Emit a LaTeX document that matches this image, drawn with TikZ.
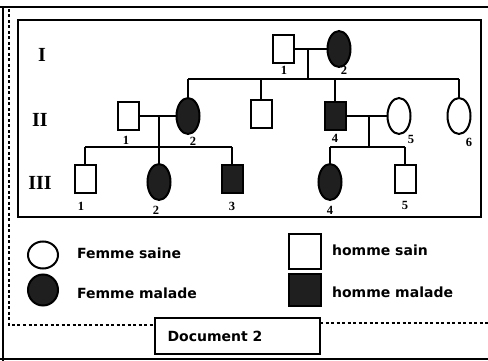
\documentclass[tikz,border=0pt]{standalone}
\usepackage{fontspec}
\setmainfont{DejaVu Sans}
\newfontfamily\romfont{Liberation Serif}
\usetikzlibrary{shapes.geometric}

\tikzset{
  male/.style={draw, line width=2pt, minimum width=21pt, minimum height=28pt, inner sep=0pt},
  female/.style={draw, ellipse, line width=2pt, minimum width=23pt, minimum height=36pt, inner sep=0pt},
  sick/.style={fill=black!88},
  gen/.style={font=\romfont\bfseries\fontsize{20}{20}\selectfont, inner sep=0pt},
  num/.style={font=\romfont\bfseries\fontsize{12.5}{12.5}\selectfont, inner sep=0pt},
  key/.style={anchor=west, font=\bfseries\fontsize{14}{14}\selectfont, inner sep=0pt},
}

\begin{document}
\begin{tikzpicture}[x=1pt, y=-1pt, line width=2.2pt]
        \useasboundingbox (0,0) rectangle (488,361);
        % frames
        \draw [line width=1.6pt] (0,7) -- (488,7);
        \draw [line width=1.6pt] (3,7) -- (3,361);
        \draw [line width=1.6pt] (0,359) -- (488,359);
        \draw [line width=2.4pt, dash pattern=on 3pt off 2.5pt] (9,9) -- (9,325) -- (155,325);
        \draw [line width=2.4pt, dash pattern=on 3pt off 2.5pt] (320,323) -- (488,323);
        \draw [line width=2.8pt] (18,20) rectangle (481,217);
        % generations
        \node [gen] (g1) at (42,55) {I};
        \node [gen] (g2) at (40,120) {II};
        \node [gen] (g3) at (40,183) {III};
        % generation I
        \node [male] (i1) at (283,49) {};
        \node [female, sick] (i2) at (339,49) {};
        \coordinate (c1) at (308,49);
        \coordinate (d1) at (308,79);
        \coordinate (l1) at (188,79);
        \coordinate (r1) at (459,79);
        \node [num] (n11) at (284,70) {1};
        \node [num] (n12) at (344,70) {2};
        % generation II
        \node [male] (ii1) at (128,116) {};
        \node [female, sick] (ii2) at (188,116) {};
        \node [male] (ii3) at (261,114) {};
        \node [male, sick] (ii4) at (335,116) {};
        \node [female] (ii5) at (399,116) {};
        \node [female] (ii6) at (459,116) {};
        \coordinate (c2) at (159,116);
        \coordinate (d2) at (159,147);
        \coordinate (l2) at (85,147);
        \coordinate (r2) at (232,147);
        \coordinate (c3) at (369,116);
        \coordinate (d3) at (369,147);
        \coordinate (l3) at (330,147);
        \coordinate (r3) at (405,147);
        \node [num] (n21) at (126,140) {1};
        \node [num] (n22) at (193,141) {2};
        \node [num] (n24) at (335,138) {4};
        \node [num] (n25) at (411,139) {5};
        \node [num] (n26) at (469,142) {6};
        % generation III
        \node [male] (iii1) at (85,179) {};
        \node [female, sick] (iii2) at (159,182) {};
        \node [male, sick] (iii3) at (232,179) {};
        \node [female, sick] (iii4) at (330,182) {};
        \node [male] (iii5) at (405,179) {};
        \node [num] (n31) at (81,206) {1};
        \node [num] (n32) at (156,210) {2};
        \node [num] (n33) at (232,206) {3};
        \node [num] (n34) at (330,210) {4};
        \node [num] (n35) at (405,205) {5};
        % lines
        \draw [-] (i1) to (i2);
        \draw [-] (c1) to (d1);
        \draw [-] (l1) to (r1);
        \draw [-] (l1) to (ii2);
        \draw [-] (ii3 |- l1) to (ii3);
        \draw [-] (ii4 |- l1) to (ii4);
        \draw [-] (r1) to (ii6);
        \draw [-] (ii1) to (ii2);
        \draw [-] (c2) to (d2);
        \draw [-] (l2) to (r2);
        \draw [-] (l2) to (iii1);
        \draw [-] (d2) to (iii2);
        \draw [-] (r2) to (iii3);
        \draw [-] (ii4) to (ii5);
        \draw [-] (c3) to (d3);
        \draw [-] (l3) to (r3);
        \draw [-] (l3) to (iii4);
        \draw [-] (r3) to (iii5);
        % key
        \node [female, minimum width=30pt, minimum height=27pt] (kf1) at (43,255) {};
        \node [female, sick, minimum width=30pt, minimum height=31pt] (kf2) at (43,290) {};
        \node [male, minimum width=32pt, minimum height=35pt] (km1) at (305,251) {};
        \node [male, sick, minimum width=32pt, minimum height=32pt] (km2) at (305,290) {};
        \node [key] (tf1) at (76,253) {Femme saine};
        \node [key] (tf2) at (76,293) {Femme malade};
        \node [key] (tm1) at (331,250) {homme sain};
        \node [key] (tm2) at (331,292) {homme malade};
        % title
        \draw [line width=2.2pt] (155,318) rectangle (320,354);
        \node [key, anchor=center] (doc) at (215,336) {Document 2};
      \end{tikzpicture}
\end{document}
